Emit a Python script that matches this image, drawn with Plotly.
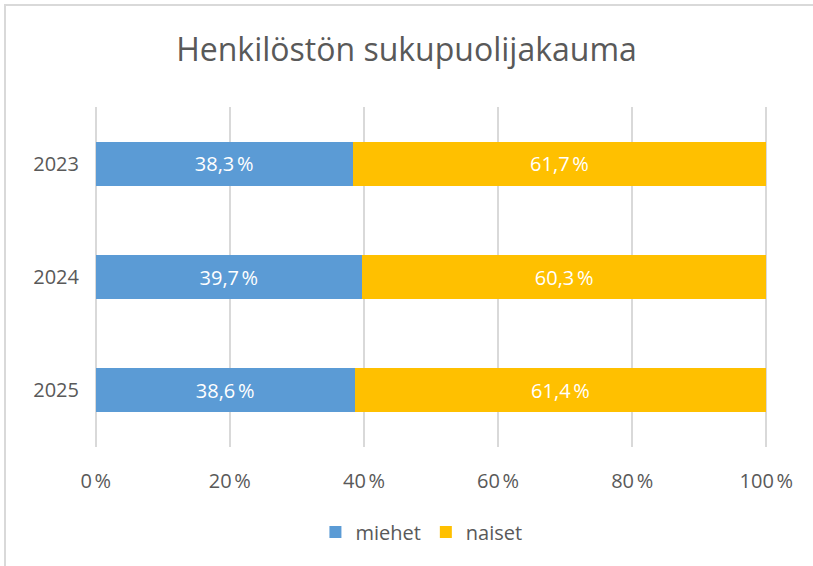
import plotly.graph_objects as go

years = ["2023", "2024", "2025"]
miehet = [38.3, 39.7, 38.6]
naiset = [61.7, 60.3, 61.4]
tick_vals = [0, 20, 40, 60, 80, 100]
tick_text = ["0\u202f%", "20\u202f%", "40\u202f%", "60\u202f%", "80\u202f%", "100\u202f%"]

FONT = "Open Sans"
GREY = "#595959"

fig = go.Figure()
for name, vals, col in [("miehet", miehet, "#5B9BD5"), ("naiset", naiset, "#FFC000")]:
    fig.add_trace(go.Bar(
        y=years, x=vals, name=name, orientation="h",
        marker=dict(color=col, line=dict(width=0)),
        texttemplate="%{x:.1f}\u202f%", textposition="inside", insidetextanchor="middle",
        textfont=dict(color="white", size=20, family=FONT),
    ))

# plot area: 0 % at x=96 px, 100 % at x=766 px (6.7 px per unit); range padded by 1 unit
fig.update_layout(
    width=813, height=566,
    barmode="stack", bargap=0.61,
    separators=", ",
    paper_bgcolor="white", plot_bgcolor="white",
    margin=dict(l=89, r=40, t=107, b=119, pad=0),
    font=dict(family=FONT, color=GREY, size=20),
    title=dict(text="Henkilöstön sukupuolijakauma", x=0.5, xanchor="center",
               y=0.912, yanchor="middle", yref="container",
               font=dict(size=32, color=GREY, family=FONT)),
    xaxis=dict(range=[-1, 101], tickvals=tick_vals, ticktext=tick_text,
               showgrid=True, gridcolor="#D9D9D9", gridwidth=2,
               zeroline=False, showline=False, ticks="",
               tickfont=dict(size=20, color=GREY), ticklabelstandoff=20),
    yaxis=dict(type="category", autorange="reversed", showgrid=False,
               zeroline=False, showline=False, ticks="",
               tickfont=dict(size=20, color=GREY), ticklabelstandoff=9),
    legend=dict(orientation="h", x=0.486, xanchor="center", y=-0.25, yanchor="middle",
                font=dict(size=20, color=GREY), traceorder="normal", itemwidth=30),
    showlegend=True,
)

W = 813 - 89 - 40
fig.add_shape(type="rect", xref="paper", yref="paper",
              x0=(5 - 89) / W, x1=(830 - 89) / W,
              y0=(447 - 580) / 340, y1=(447 - 5) / 340,
              line=dict(color="#D9D9D9", width=2), fillcolor="rgba(0,0,0,0)",
              layer="below")

fig.write_html("out.html", config={"displayModeBar": False},
               post_script="document.body.style.margin='0';document.body.style.overflow='hidden';")
